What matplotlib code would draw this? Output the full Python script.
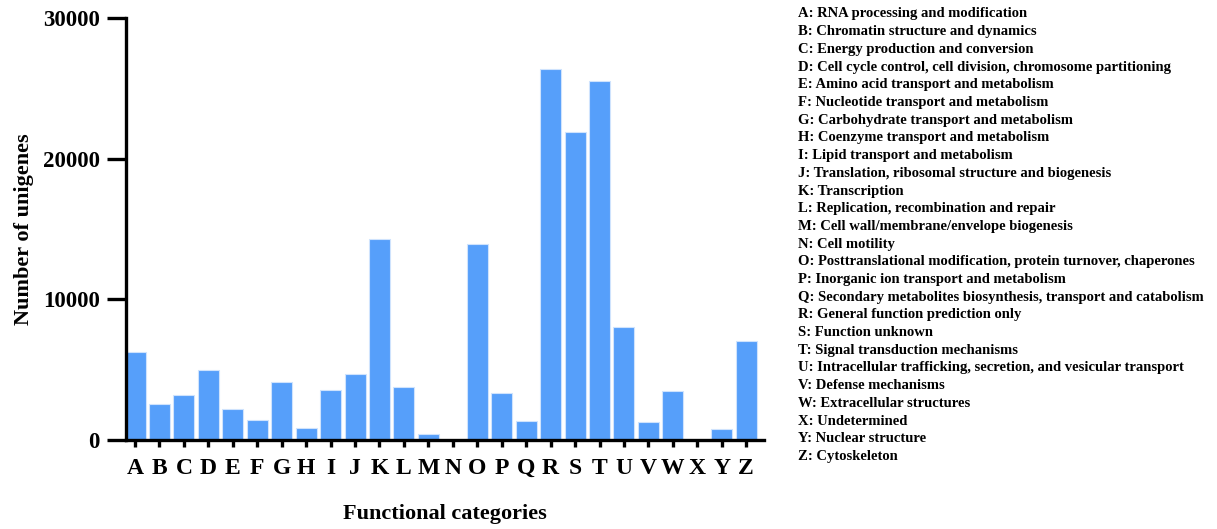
import matplotlib
matplotlib.use("Agg")
import matplotlib.pyplot as plt

categories = list("ABCDEFGHIJKLMNOPQRSTUVWXYZ")
counts = [6280, 2540, 3230, 4980, 2230, 1420, 4100, 850, 3540, 4670,
          14280, 3800, 470, 0, 13930, 3370, 1350, 26410, 21900, 25550,
          8020, 1260, 3510, 0, 760, 7020]
descriptions = [
    "RNA processing and modification",
    "Chromatin structure and dynamics",
    "Energy production and conversion",
    "Cell cycle control, cell division, chromosome partitioning",
    "Amino acid transport and metabolism",
    "Nucleotide transport and metabolism",
    "Carbohydrate transport and metabolism",
    "Coenzyme transport and metabolism",
    "Lipid transport and metabolism",
    "Translation, ribosomal structure and biogenesis",
    "Transcription",
    "Replication, recombination and repair",
    "Cell wall/membrane/envelope biogenesis",
    "Cell motility",
    "Posttranslational modification, protein turnover, chaperones",
    "Inorganic ion transport and metabolism",
    "Secondary metabolites biosynthesis, transport and catabolism",
    "General function prediction only",
    "Function unknown",
    "Signal transduction mechanisms",
    "Intracellular trafficking, secretion, and vesicular transport",
    "Defense mechanisms",
    "Extracellular structures",
    "Undetermined",
    "Nuclear structure",
    "Cytoskeleton",
]

plt.rcParams["font.family"] = ["Liberation Serif", "DejaVu Serif"]
plt.rcParams["font.weight"] = "bold"

fig = plt.figure(figsize=(12.17, 5.29), dpi=100)
ax = fig.add_axes([0.1035, 0.168, 0.5245, 0.798])

x = list(range(len(categories)))
ax.bar(x, counts, width=0.86, color="#569FFA", edgecolor="#CFE3FD", linewidth=0.8)

ax.set_ylim(0, 30000)
ax.set_xlim(-0.37, 25.74)
ax.set_yticks([0, 10000, 20000, 30000])
ax.set_xticks(x)
ax.set_xticklabels(categories, fontsize=17, fontweight="bold")
for lab in ax.get_yticklabels():
    lab.set_fontsize(16.5)
    lab.set_fontweight("bold")

for side in ["top", "right"]:
    ax.spines[side].set_visible(False)
for side in ["left", "bottom"]:
    ax.spines[side].set_linewidth(2.4)
ax.tick_params(axis="y", length=14, width=2.4, pad=5)
ax.tick_params(axis="x", length=5, width=2.4, pad=8)

ax.set_ylabel("Number of unigenes", fontsize=16, fontweight="bold", labelpad=6)
ax.set_xlabel("Functional categories", fontsize=16, fontweight="bold", labelpad=18)

top_y = 1 - 14 / 529
step = 17.7 / 529
for i, (c, d) in enumerate(zip(categories, descriptions)):
    fig.text(798 / 1217, top_y - i * step, f"{c}: {d}", fontsize=10.5,
             fontweight="bold", va="center", ha="left")

fig.savefig("out.png", dpi=100)
